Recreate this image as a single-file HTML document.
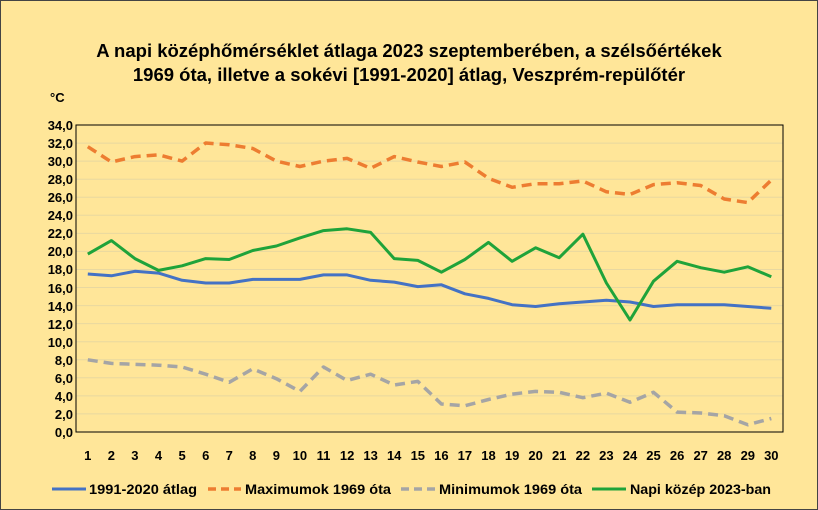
<!DOCTYPE html>
<html><head><meta charset="utf-8"><style>
html,body{margin:0;padding:0;}
body{width:818px;height:510px;overflow:hidden;background:#FFE699;}
svg{display:block;font-family:"Liberation Sans",sans-serif;}
</style></head><body>
<svg width="818" height="510" viewBox="0 0 818 510">
<rect x="0.5" y="0.5" width="817" height="509" fill="#FFE699" stroke="#444" stroke-width="1"/>
<text x="409" y="57" text-anchor="middle" font-size="18.5" font-weight="bold" fill="#000">A napi középhőmérséklet átlaga 2023 szeptemberében, a szélsőértékek</text>
<text x="409" y="81" text-anchor="middle" font-size="18.5" font-weight="bold" fill="#000">1969 óta, illetve a sokévi [1991-2020] átlag, Veszprém-repülőtér</text>
<text x="50" y="102" font-size="13" font-weight="bold" fill="#000">°C</text>
<g stroke="#E8D8A0" stroke-width="1">
<line x1="76" x2="783" y1="143.1" y2="143.1"/><line x1="76" x2="783" y1="161.1" y2="161.1"/><line x1="76" x2="783" y1="179.2" y2="179.2"/><line x1="76" x2="783" y1="197.3" y2="197.3"/><line x1="76" x2="783" y1="215.3" y2="215.3"/><line x1="76" x2="783" y1="233.4" y2="233.4"/><line x1="76" x2="783" y1="251.4" y2="251.4"/><line x1="76" x2="783" y1="269.5" y2="269.5"/><line x1="76" x2="783" y1="287.5" y2="287.5"/><line x1="76" x2="783" y1="305.6" y2="305.6"/><line x1="76" x2="783" y1="323.6" y2="323.6"/><line x1="76" x2="783" y1="341.7" y2="341.7"/><line x1="76" x2="783" y1="359.8" y2="359.8"/><line x1="76" x2="783" y1="377.8" y2="377.8"/><line x1="76" x2="783" y1="395.9" y2="395.9"/><line x1="76" x2="783" y1="413.9" y2="413.9"/>
</g>
<rect x="76" y="125" width="707" height="307" fill="none" stroke="#000" stroke-width="1"/>
<g font-size="13" font-weight="bold" text-anchor="end" fill="#000">
<text x="73" y="130">34,0</text><text x="73" y="148">32,0</text><text x="73" y="166">30,0</text><text x="73" y="184">28,0</text><text x="73" y="202">26,0</text><text x="73" y="220">24,0</text><text x="73" y="238">22,0</text><text x="73" y="256">20,0</text><text x="73" y="274">18,0</text><text x="73" y="293">16,0</text><text x="73" y="311">14,0</text><text x="73" y="329">12,0</text><text x="73" y="347">10,0</text><text x="73" y="365">8,0</text><text x="73" y="383">6,0</text><text x="73" y="401">4,0</text><text x="73" y="419">2,0</text><text x="73" y="437">0,0</text>
</g>
<g font-size="13" font-weight="bold" text-anchor="middle" fill="#000">
<text x="87.8" y="460">1</text><text x="111.4" y="460">2</text><text x="134.9" y="460">3</text><text x="158.5" y="460">4</text><text x="182.1" y="460">5</text><text x="205.7" y="460">6</text><text x="229.2" y="460">7</text><text x="252.8" y="460">8</text><text x="276.4" y="460">9</text><text x="299.9" y="460">10</text><text x="323.5" y="460">11</text><text x="347.1" y="460">12</text><text x="370.6" y="460">13</text><text x="394.2" y="460">14</text><text x="417.8" y="460">15</text><text x="441.4" y="460">16</text><text x="464.9" y="460">17</text><text x="488.5" y="460">18</text><text x="512.1" y="460">19</text><text x="535.6" y="460">20</text><text x="559.2" y="460">21</text><text x="582.9" y="460">22</text><text x="606.4" y="460">23</text><text x="630" y="460">24</text><text x="653.5" y="460">25</text><text x="677.1" y="460">26</text><text x="700.7" y="460">27</text><text x="724.2" y="460">28</text><text x="747.8" y="460">29</text><text x="771.3" y="460">30</text>
</g>
<g fill="none" stroke-width="3.5" stroke-linejoin="round">
<polyline stroke="#ED7D31" stroke-dasharray="10,6" points="87.8,146.7 111.4,162 134.9,156.6 158.5,154.8 182.1,161.1 205.7,143 229.2,144.8 252.8,148.5 276.4,161.1 299.9,166.5 323.5,161.1 347.1,158.4 370.6,168.3 394.2,156.6 417.8,162 441.4,166.5 464.9,162 488.5,178.3 512.1,187.3 535.6,183.7 559.2,183.7 582.9,181 606.4,191.8 630,194.5 653.5,184.6 677.1,182.8 700.7,185.5 724.2,199 747.8,202.6 771.3,180.1"/>
<polyline stroke="#A5A5A5" stroke-dasharray="10,6" points="87.8,359.8 111.4,363.4 134.9,364.3 158.5,365.2 182.1,367 205.7,374.2 229.2,382.3 252.8,368.8 276.4,378.7 299.9,391.4 323.5,367 347.1,380.5 370.6,374.2 394.2,385 417.8,381.4 441.4,404 464.9,405.8 488.5,399.5 512.1,394.1 535.6,391.4 559.2,392.3 582.9,397.7 606.4,393.2 630,402.2 653.5,392.3 677.1,412.1 700.7,413 724.2,415.7 747.8,424.8 771.3,418.5"/>
<polyline stroke="#4472C4" stroke-width="3" points="87.8,274 111.4,275.8 134.9,271.3 158.5,273.1 182.1,280.3 205.7,283 229.2,283 252.8,279.4 276.4,279.4 299.9,279.4 323.5,274.9 347.1,274.9 370.6,280.3 394.2,282.1 417.8,286.6 441.4,284.8 464.9,293.8 488.5,298.4 512.1,304.7 535.6,306.5 559.2,303.8 582.9,302 606.4,300.2 630,302 653.5,306.5 677.1,304.7 700.7,304.7 724.2,304.7 747.8,306.5 771.3,308.3"/>
<polyline stroke="#1FA33A" stroke-width="3" points="87.8,254.1 111.4,240.6 134.9,258.6 158.5,270.4 182.1,265.8 205.7,258.6 229.2,259.5 252.8,250.5 276.4,246 299.9,237.9 323.5,230.6 347.1,228.8 370.6,232.4 394.2,258.6 417.8,260.4 441.4,272.2 464.9,259.5 488.5,242.4 512.1,261.3 535.6,247.8 559.2,257.7 582.9,234.2 606.4,283 630,320 653.5,281.2 677.1,261.3 700.7,267.7 724.2,272.2 747.8,266.8 771.3,276.7"/>
</g>
<g font-size="14" font-weight="bold" fill="#000" font-family="'Liberation Sans Narrow','Liberation Sans',sans-serif">
<line x1="52" x2="86" y1="489" y2="489" stroke="#4472C4" stroke-width="3"/>
<text x="89" y="494" textLength="108" lengthAdjust="spacingAndGlyphs">1991-2020 átlag</text>
<line x1="208" x2="241" y1="489" y2="489" stroke="#ED7D31" stroke-width="3.5" stroke-dasharray="8,5"/>
<text x="245" y="494" textLength="146" lengthAdjust="spacingAndGlyphs">Maximumok 1969 óta</text>
<line x1="401" x2="436" y1="489" y2="489" stroke="#A5A5A5" stroke-width="3.5" stroke-dasharray="8,5"/>
<text x="439" y="494" textLength="143" lengthAdjust="spacingAndGlyphs">Minimumok 1969 óta</text>
<line x1="592" x2="626" y1="489" y2="489" stroke="#1FA33A" stroke-width="3"/>
<text x="630" y="494" textLength="141" lengthAdjust="spacingAndGlyphs">Napi közép 2023-ban</text>
</g>
</svg>
</body></html>
